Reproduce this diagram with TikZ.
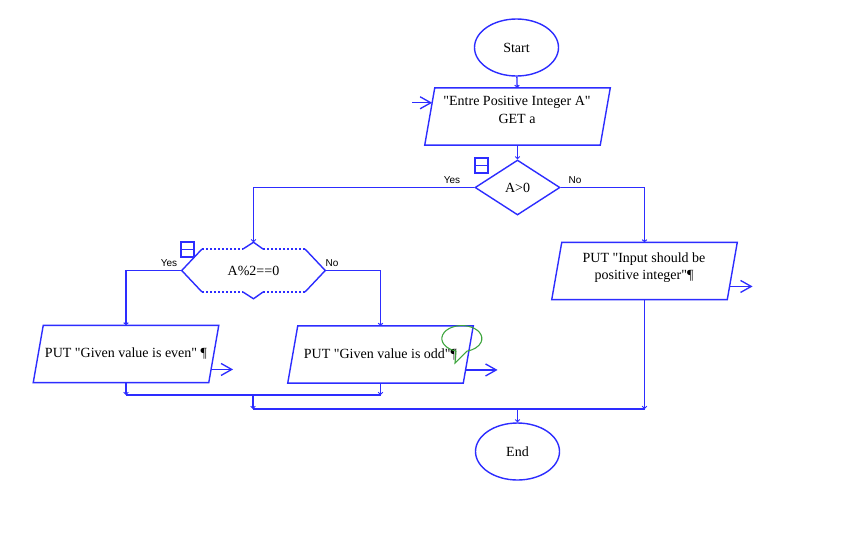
\documentclass[tikz,border=0pt]{standalone}
\usepackage{fontspec}
\setmainfont{Liberation Serif}[Ligatures=TeXOff]
\newfontfamily\branchfont{Liberation Sans}
\usetikzlibrary{shapes.geometric,arrows.meta,calc}

\definecolor{flowblue}{RGB}{45,45,255}
\definecolor{notegreen}{RGB}{60,165,60}

% outline of a slanted data box around a named rectangle node
\newcommand\slantoutline[1]{%
  \draw[line] ($(#1.north west)+(10,0)$) -- (#1.north east)
    -- ($(#1.south east)+(-10,0)$) -- (#1.south west) -- cycle;}

\begin{document}
\begin{tikzpicture}[x=0.75pt,y=-0.75pt,
  line/.style={draw=flowblue, line width=1.05pt},
  flow/.style={line, -{Straight Barb[length=1.6pt,width=3.4pt,line width=0.7pt]}},
  io/.style={line, -{Straight Barb[length=8pt,width=9pt,line width=1pt]}},
  maintext/.style={font=\fontsize{10.5}{13}\selectfont},
  terminal/.style={ellipse, line, maintext, minimum width=63pt, minimum height=42.75pt, inner sep=0pt},
  data/.style={rectangle, maintext, align=center, inner sep=0pt,
    minimum width=138.75pt, minimum height=42.5pt},
  decision/.style={diamond, line, maintext, minimum width=63.75pt, minimum height=41.25pt, inner sep=0pt},
  branch/.style={font=\branchfont\fontsize{7.5}{9}\selectfont, inner sep=0pt},
  panelicon/.style={draw=flowblue, line width=0.9pt, minimum width=9.75pt, minimum height=11.25pt,
    inner sep=0pt, path picture={\draw[flowblue, line width=0.9pt]
      (path picture bounding box.west) -- (path picture bounding box.east);}},
  dottededge/.style={draw=flowblue, line width=0.8pt, dash pattern=on 1.5pt off 1.5pt}
]
\useasboundingbox[fill=white] (0,0) rectangle (845,551);

% --- nodes ---
\node[terminal] (start) at (516.5,47.5) {Start};
\node[data] (input) at (517.5,116.5) {};
\node[maintext, align=center, inner sep=0pt] (inputtext) at (517,110) {"Entre Positive Integer A"\\GET a};
\node[decision] (dec1) at (517.5,187.5) {A>0};
\node[panelicon] (icon1) at (481.5,165.5) {};

\node[minimum width=107.25pt, minimum height=42pt, inner sep=0pt, maintext] (cond2) at (253.5,270.5) {A\%2==0};
\node[panelicon] (icon2) at (187.5,249.5) {};

\node[data] (even) at (126,354) {PUT "Given value is even" ¶};
\node[data] (odd) at (380.5,354.5) {PUT "Given value is odd"¶};
\node[data] (put3) at (644.5,271) {};
\node[maintext, align=center, inner sep=0pt] (put3text) at (644,267.5) {PUT "Input should be\\positive integer"¶};
\node[terminal] (end) at (517.5,451.5) {End};

\slantoutline{input}
\slantoutline{even}
\slantoutline{odd}
\slantoutline{put3}

% second decision outline: solid slanted sides, dotted flat edges
\draw[line] (202,249) -- (cond2.west) -- (202,292);
\draw[line] (305,249) -- (cond2.east) -- (305,292);
\draw[line] (243,249) -- (cond2.north) -- (263,249);
\draw[line] (243,292) -- (cond2.south) -- (263,292);
\draw[dottededge] (202,249) -- (243,249) (263,249) -- (305,249);
\draw[dottededge] (202,292) -- (243,292) (263,292) -- (305,292);

% --- branch labels ---
\node[branch] at (452,180) {Yes};
\node[branch] at (575,180) {No};
\node[branch] at (169,263) {Yes};
\node[branch] at (332,263) {No};

% --- connectors ---
\draw[flow] (start) -- (input);
\draw[flow] (input) -- (dec1);
\draw[flow] (dec1.west) -| (cond2.north);
\draw[flow] (dec1.east) -| (put3.north);
\draw[flow] (cond2.west) -| (even.north);
\draw[flow] (cond2.east) -| (odd.north);

\coordinate (j1) at (253,395);
\coordinate (j2) at (253,409);
\draw[flow] (even.south) -- (even.south |- j1);
\draw[flow] (odd.south) -- (odd.south |- j1);
\draw[line] (even.south |- j1) -- (odd.south |- j1);
\draw[flow] (j1) -- (j2);
\draw[flow] (put3.south) -- (put3.south |- j2);
\draw[line] (j2) -- (put3.south |- j2);
\draw[flow] (end.north |- j2) -- (end.north);

% input and output arrows
\coordinate (inpt) at ($($(input.north west)+(10,0)$)!0.26!(input.south west)$);
\draw[io] ($(inpt)+(-20,0)$) -- (inpt);
\coordinate (evenout) at ($($(even.south east)+(-10,0)$)!0.23!(even.north east)$);
\draw[io] (evenout) -- ($(evenout)+(22,0)$);
\coordinate (oddout) at ($($(odd.south east)+(-10,0)$)!0.23!(odd.north east)$);
\draw[io] (oddout) -- ($(oddout)+(32,0)$);
\coordinate (put3out) at ($($(put3.south east)+(-10,0)$)!0.23!(put3.north east)$);
\draw[io] (put3out) -- ($(put3out)+(23,0)$);

% green comment bubble on the odd output box
\draw[notegreen, line width=0.8pt]
  (456,351) arc[start angle=107, end angle=435, x radius=20, y radius=13]
  -- (455,363) -- cycle;
\end{tikzpicture}
\end{document}
